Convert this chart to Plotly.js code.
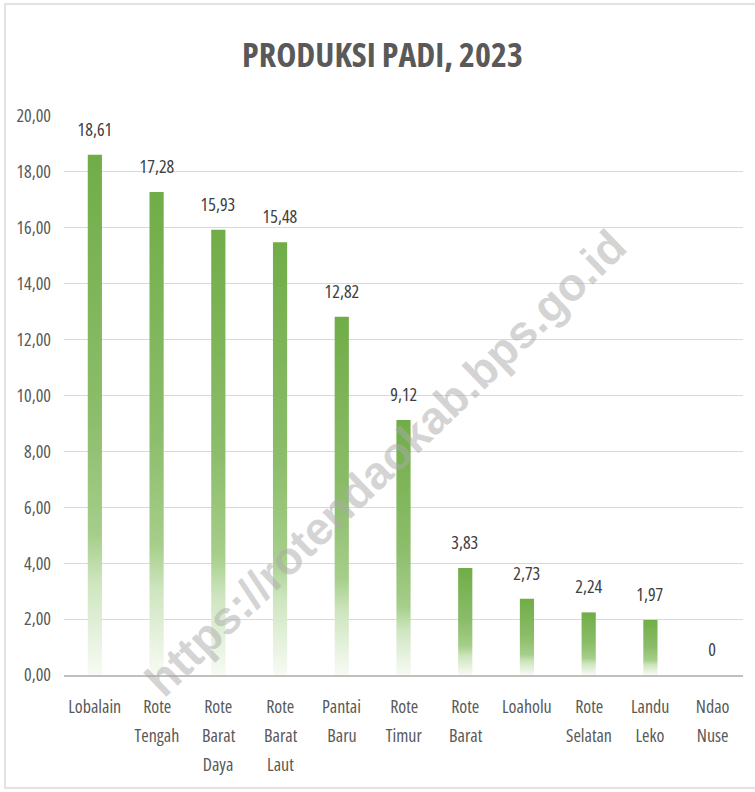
<!DOCTYPE html>
<html>
<head>
<meta charset="utf-8">
<script src="https://cdn.plot.ly/plotly-3.0.1.min.js"></script>
<style>
  html, body { margin: 0; padding: 0; background: #ffffff; }
  #chart { width: 755px; height: 792px; }
  #chart svg text { font-stretch: 75% !important; }
</style>
</head>
<body>
<div id="chart"></div>
<script>
// ---- data ----
var categories = ["Lobalain", "Rote Tengah", "Rote Barat Daya", "Rote Barat Laut", "Pantai Baru",
                  "Rote Timur", "Rote Barat", "Loaholu", "Rote Selatan", "Landu Leko", "Ndao Nuse"];
var categoryLabelLines = [["Lobalain"], ["Rote", "Tengah"], ["Rote", "Barat", "Daya"], ["Rote", "Barat", "Laut"],
                  ["Pantai", "Baru"], ["Rote", "Timur"], ["Rote", "Barat"], ["Loaholu"], ["Rote", "Selatan"],
                  ["Landu", "Leko"], ["Ndao", "Nuse"]];
var produksi = [18.61, 17.28, 15.93, 15.48, 12.82, 9.12, 3.83, 2.73, 2.24, 1.97, 0];
var valueLabels = ["18,61", "17,28", "15,93", "15,48", "12,82", "9,12", "3,83", "2,73", "2,24", "1,97", "0"];
var yTickVals = [0, 2, 4, 6, 8, 10, 12, 14, 16, 18, 20];
var yTickText = ["0,00", "2,00", "4,00", "6,00", "8,00", "10,00", "12,00", "14,00", "16,00", "18,00", "20,00"];
var titleText = "PRODUKSI PADI, 2023";
var watermarkText = "https://rotendaokab.bps.go.id";

var FONT = "'Open Sans', 'DejaVu Sans Condensed', sans-serif";

var annotations = [];
for (var i = 0; i < categories.length; i++) {
  annotations.push({
    x: categories[i], y: produksi[i], xref: "x", yref: "y",
    text: valueLabels[i], showarrow: false, yanchor: "bottom", yshift: 12,
    font: {family: FONT, size: 18, color: "#404040"}
  });
}
for (var i = 0; i < categories.length; i++) {
  var lines = categoryLabelLines[i];
  for (var j = 0; j < lines.length; j++) {
    annotations.push({
      x: categories[i], y: 0, xref: "x", yref: "y",
      text: lines[j], showarrow: false, yanchor: "middle", yshift: -31 - j * 29,
      font: {family: FONT, size: 18, color: "#595959"}
    });
  }
}
annotations.push({
  x: 0.473, y: 0.38, xref: "paper", yref: "paper",
  text: watermarkText, showarrow: false, textangle: -44,
  font: {family: "'Liberation Sans', Arial, sans-serif", size: 46, color: "rgba(170,170,170,0.5)", weight: 700}
});

var trace = {
  type: "bar",
  x: categories,
  y: produksi,
  marker: {color: "#70AD47", line: {width: 0}},
  hoverinfo: "none"
};

var layout = {
  width: 755, height: 792,
  margin: {l: 64, r: 12, t: 116, b: 117},
  paper_bgcolor: "#ffffff", plot_bgcolor: "#ffffff",
  showlegend: false,
  bargap: 0.77,
  title: {
    text: "<b>" + titleText + "</b>",
    font: {family: FONT, size: 34, color: "#595959"},
    x: 382.5 / 755, xref: "container", xanchor: "center",
    y: 1 - 55 / 792, yref: "container", yanchor: "middle",
    automargin: false
  },
  xaxis: {
    type: "category",
    range: [-0.5, categories.length - 0.5],
    autorange: false,
    automargin: false,
    showticklabels: false,
    showgrid: false, zeroline: false,
    showline: true, linecolor: "#bfbfbf", linewidth: 1.5,
    ticks: ""
  },
  yaxis: {
    range: [0, 20],
    automargin: false,
    tickvals: yTickVals, ticktext: yTickText,
    tickfont: {family: FONT, size: 18, color: "#595959"},
    showgrid: true, gridcolor: "#d9d9d9", gridwidth: 1,
    zeroline: false, showline: false, ticks: "",
    ticklabelstandoff: 12
  },
  annotations: annotations,
  shapes: [{
    type: "rect", xref: "paper", yref: "paper",
    x0: (5 - 64) / 679, x1: (770 - 64) / 679,
    y0: (675 - 788) / 559, y1: (675 - 4) / 559,
    line: {color: "#d9d9d9", width: 1.5}, fillcolor: "rgba(0,0,0,0)", layer: "below"
  }]
};

var gd = document.getElementById("chart");

function applyGradient() {
  var svg = gd.querySelector("svg.main-svg");
  if (!svg) return;
  var defs = svg.querySelector("defs");
  if (!defs) { defs = document.createElementNS("http://www.w3.org/2000/svg", "defs"); svg.insertBefore(defs, svg.firstChild); }
  if (!svg.querySelector("#barGrad")) {
    var ns = "http://www.w3.org/2000/svg";
    var g = document.createElementNS(ns, "linearGradient");
    g.setAttribute("id", "barGrad");
    g.setAttribute("x1", "0"); g.setAttribute("y1", "0");
    g.setAttribute("x2", "0"); g.setAttribute("y2", "1");
    var stops = [[0, "#70AD47"], [0.5, "#8CBD6B"], [0.73, "#A6CE8A"], [0.82, "#CDE5BE"], [1, "#F7FBF4"]];
    stops.forEach(function (s) {
      var st = document.createElementNS(ns, "stop");
      st.setAttribute("offset", s[0]);
      st.setAttribute("stop-color", s[1]);
      g.appendChild(st);
    });
    defs.appendChild(g);
  }
  gd.querySelectorAll(".trace.bars .point path").forEach(function (p) {
    p.style.fill = "url(#barGrad)";
  });
  gd.querySelectorAll(".annotation-text").forEach(function (t) {
    if (t.textContent === watermarkText) t.style.setProperty("font-stretch", "100%", "important");
  });
}

Plotly.newPlot(gd, [trace], layout, {displayModeBar: false, staticPlot: true}).then(function () {
  applyGradient();
  gd.on("plotly_afterplot", applyGradient);
});
</script>
</body>
</html>
